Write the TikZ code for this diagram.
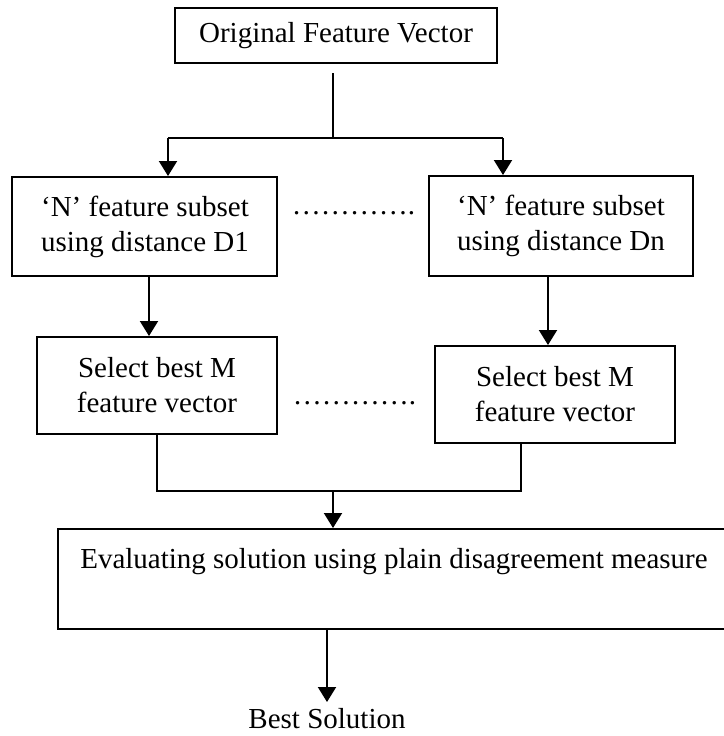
\documentclass[tikz,border=0pt]{standalone}
\usepackage{fontspec}
\setmainfont{Liberation Serif}
\usepackage{tikz}
\usetikzlibrary{positioning,calc}
\usetikzlibrary{arrows.meta}
\tikzset{
  box/.style={draw=black,line width=1pt,fill=white,inner sep=0pt,align=center,
    font=\fontsize{14.5}{17.5}\selectfont},
  link/.style={draw=black,line width=1pt},
  flow/.style={link,-{Triangle[width=9pt,length=7.5pt]}},
}
\tikzset{txt/.style={inner sep=0pt,font=\fontsize{14.5}{17.5}\selectfont}, dots/.style={txt,anchor=base}}

\begin{document}
\begin{tikzpicture}[x=0.5pt,y=-0.5pt]
\clip (0,0) rectangle (724,736);
\coordinate (split) at (333,138);
\coordinate (s1) at (168,138);
\coordinate (sn) at (503,138);
\coordinate (join) at (333,491);
\node[box,minimum width=161pt,minimum height=27.5pt] (orig) at (336,35.5) {Original Feature Vector};
\node[box,minimum width=132.5pt,minimum height=49.5pt] (sub1) at (145,226.5) {‘N’ feature subset\\using distance D1};
\node[box,minimum width=132pt,minimum height=50pt] (subn) at (561,226) {‘N’ feature subset\\using distance Dn};
\node[box,minimum width=120pt,minimum height=48.5pt] (sel1) at (157,385.5) {Select best M\\feature vector};
\node[box,minimum width=120pt,minimum height=48.5pt] (seln) at (555,394.5) {Select best M\\feature vector};
\node[box,minimum width=336pt,text height=19.5pt,text depth=30.5pt] (eval) at (394,579) {Evaluating solution using plain disagreement measure};
\node[txt,anchor=north,inner ysep=3pt] (best) at (327,702) {Best Solution};
\node[dots] (dots1) at (353.5,214) {………….};
\node[dots] (dots2) at (354.5,404) {………….};
\draw[link,shorten <=4.5pt] (orig.south -| split) -- (split);
\draw[link] (s1) -- (sn);
\draw[flow] (s1) -- (s1 |- sub1.north);
\draw[flow] (sn) -- (sn |- subn.north);
\draw[flow] ([xshift=2pt]sub1.south) -- ([xshift=2pt]sub1.south |- sel1.north);
\draw[flow] ([xshift=-6.5pt]subn.south) -- ([xshift=-6.5pt]subn.south |- seln.north);
\draw[link] (sel1.south) |- (join);
\draw[link] ([xshift=-17pt]seln.south) |- (join);
\draw[flow] (join) -- (join |- eval.north);
\draw[flow] (best.north |- eval.south) -- (best.north);
\end{tikzpicture}
\end{document}
